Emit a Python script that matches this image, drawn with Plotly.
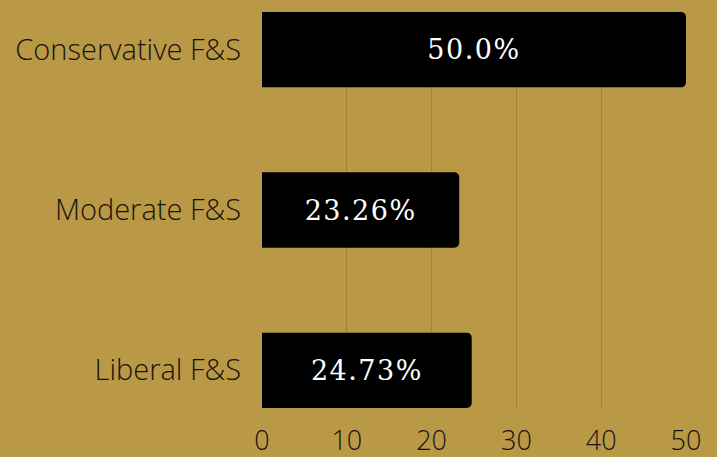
import plotly.graph_objects as go

categories = ["Liberal F&S", "Moderate F&S", "Conservative F&S"]
values = [24.73, 23.26, 50.0]
labels = ["24.73%", "23.26%", "50.0%"]
x_ticks = [0, 10, 20, 30, 40, 50]

BG = "#BA9946"

fig = go.Figure(go.Bar(
    x=values,
    y=categories,
    orientation="h",
    width=0.47,
    marker=dict(color="#000000", line=dict(width=0)),
    text=labels,
    textposition="inside",
    insidetextanchor="middle",
    textangle=0,
    textfont=dict(family="DejaVu Serif", size=27, color="#ffffff"),
    hoverinfo="skip",
))

fig.update_layout(
    width=717, height=457,
    paper_bgcolor=BG, plot_bgcolor=BG,
    margin=dict(l=262, r=31, t=12, b=49, autoexpand=False),
    barcornerradius=5,
    showlegend=False,
    xaxis=dict(
        range=[0, 50],
        tickvals=x_ticks,
        showgrid=True, gridcolor="#9E8238", gridwidth=1,
        zeroline=False, showline=False,
        ticks="", ticklen=0,
        ticklabelstandoff=14,
        automargin=False,
        tickfont=dict(family="Open Sans", size=27, color="#161410", weight=300),
    ),
    yaxis=dict(
        range=[-0.235, 2.235],
        showgrid=False, zeroline=False, showline=False,
        ticks="", ticklen=0,
        ticklabelstandoff=20,
        automargin=False,
        tickfont=dict(family="Open Sans", size=29, color="#161410", weight=300),
    ),
)

post = """
document.body.style.margin='0';
document.body.style.background='#BA9946';
document.querySelectorAll('.bartext').forEach(function(t){t.style.letterSpacing='1.5px';});
"""

fig.write_html("out.html", post_script=post, config={"displayModeBar": False})
